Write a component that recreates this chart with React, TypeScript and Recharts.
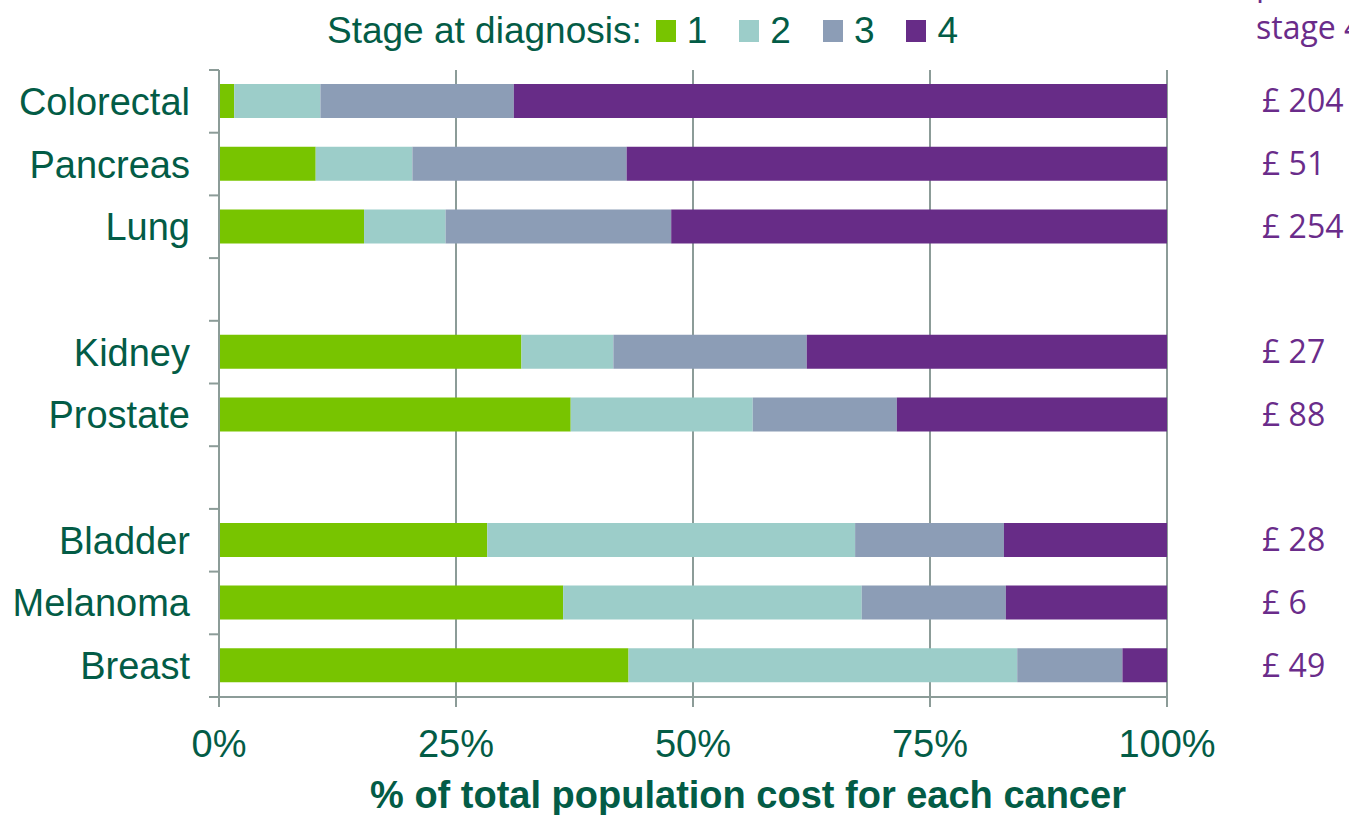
import React from 'react';
import { BarChart, Bar, XAxis, YAxis, CartesianGrid, Legend, LabelList, Label } from 'recharts';

const categories = ['Colorectal', 'Pancreas', 'Lung', '', 'Kidney', 'Prostate', '', 'Bladder', 'Melanoma', 'Breast'];
const stage1 = [1.6, 10.2, 15.3, null, 31.9, 37.1, null, 28.3, 36.3, 43.2];
const stage2 = [9.1, 10.2, 8.6, null, 9.7, 19.2, null, 38.8, 31.5, 41.0];
const stage3 = [20.4, 22.6, 23.8, null, 20.4, 15.2, null, 15.7, 15.2, 11.1];
const stage4 = [68.9, 57.0, 52.3, null, 38.0, 28.5, null, 17.2, 17.0, 4.7];
const stage4Cost = [204, 51, 254, null, 27, 88, null, 28, 6, 49];
const xTicks = [0, 25, 50, 75, 100];
const stageNames = ['1', '2', '3', '4'];
const legendTitle = 'Stage at diagnosis:';
const xTitle = '% of total population cost for each cancer';
const headerLines = ['per case at', 'stage 4'];

const COLORS = ['#78c400', '#9ccdc9', '#8c9db6', '#672c87'];
const GREEN = '#035c46';
const PURPLE = '#6a2c8a';
const AXIS = '#8c9c98';
const SANS = "'Liberation Sans', Arial, sans-serif";
const CAL = "'Open Sans', 'Noto Sans', sans-serif";

const W = 1349;
const H = 815;
const M = { top: 70, right: 182, bottom: 58, left: 0 };
const YW = 219;
const XH = 60;
const PLOT_H = H - M.top - M.bottom - XH;
const BAND = PLOT_H / categories.length;

const data = categories.map((c, i) => ({
  id: `row${i}`,
  s1: stage1[i],
  s2: stage2[i],
  s3: stage3[i],
  s4: stage4[i],
  cost: stage4Cost[i],
}));

const YTick = (props: any) => {
  const { y, index } = props;
  const ax = M.left + YW;
  const label = categories[index] ?? '';
  const last = index === categories.length - 1;
  return (
    <g>
      <line x1={ax - 10} x2={ax} y1={y - BAND / 2} y2={y - BAND / 2} stroke={AXIS} strokeWidth={2} />
      {last && <line x1={ax - 10} x2={ax} y1={y + BAND / 2} y2={y + BAND / 2} stroke={AXIS} strokeWidth={2} />}
      <text x={ax - 29} y={y} dy="0.355em" textAnchor="end" fill={GREEN} fontSize={38} fontFamily={SANS}>
        {label}
      </text>
    </g>
  );
};

const CostLabel = (props: any) => {
  const { x, y, width, height, value } = props;
  if (value === null || value === undefined) return null;
  return (
    <text x={x + width + 95} y={y + height / 2} dy="0.357em" fill={PURPLE} fontSize={32} fontFamily={CAL}>
      {`£ ${value}`}
    </text>
  );
};

const XTitle = (props: any) => {
  const vb = props.viewBox || { x: 0, y: 0, width: 0 };
  return (
    <text x={vb.x + vb.width / 2 + 55} y={vb.y + 111} textAnchor="middle" fill={GREEN} fontSize={38} fontWeight="bold" fontFamily={SANS}>
      {xTitle}
    </text>
  );
};

const LegendContent = (props: any) => {
  const payload = props.payload || [];
  return (
    <div style={{ position: 'relative', width: W, height: 60 }}>
      <div
        style={{
          position: 'absolute',
          left: 327,
          top: 10,
          display: 'flex',
          alignItems: 'center',
          fontFamily: SANS,
          fontSize: 37,
          lineHeight: '42px',
          color: GREEN,
          whiteSpace: 'nowrap',
        }}
      >
        <span>{legendTitle}</span>
        {payload.map((p: any, i: number) => (
          <span key={i} style={{ display: 'flex', alignItems: 'center', marginLeft: i === 0 ? 14 : 32 }}>
            <span style={{ display: 'inline-block', width: 20, height: 22, background: p.color, marginRight: 11 }} />
            <span>{p.value}</span>
          </span>
        ))}
      </div>
    </div>
  );
};

export default function App() {
  return (
    <div style={{ position: 'absolute', left: 0, top: 0, width: W, height: H, background: '#fff' }}>
      <BarChart width={W} height={H} data={data} layout="vertical" margin={M} barSize={34}>
        <CartesianGrid horizontal={false} stroke={AXIS} strokeWidth={2} />
        <XAxis
          type="number"
          domain={[0, 100]}
          ticks={xTicks}
          tickFormatter={(v: number) => `${v}%`}
          height={XH}
          stroke={AXIS}
          strokeWidth={2}
          tickSize={10}
          tickMargin={23}
          tick={{ fill: GREEN, fontSize: 38, fontFamily: SANS }}
          interval={0}
        >
          <Label content={XTitle} />
        </XAxis>
        <YAxis
          type="category"
          dataKey="id"
          width={YW}
          stroke={AXIS}
          strokeWidth={2}
          tickLine={false}
          tick={YTick}
          interval={0}
        />
        <Legend verticalAlign="middle" align="center" layout="horizontal" wrapperStyle={{ top: 0, left: 0, width: W, height: 60 }} content={LegendContent} />
        <Bar dataKey="s1" name={stageNames[0]} stackId="a" fill={COLORS[0]} isAnimationActive={false} />
        <Bar dataKey="s2" name={stageNames[1]} stackId="a" fill={COLORS[1]} isAnimationActive={false} />
        <Bar dataKey="s3" name={stageNames[2]} stackId="a" fill={COLORS[2]} isAnimationActive={false} />
        <Bar dataKey="s4" name={stageNames[3]} stackId="a" fill={COLORS[3]} isAnimationActive={false}>
          <LabelList dataKey="cost" content={CostLabel} />
        </Bar>
        <g>
          {headerLines.map((t, i) => (
            <text key={i} x={1256} y={-5 + i * 44} fill={PURPLE} fontSize={32} fontFamily={CAL}>
              {t}
            </text>
          ))}
        </g>
      </BarChart>
    </div>
  );
}
